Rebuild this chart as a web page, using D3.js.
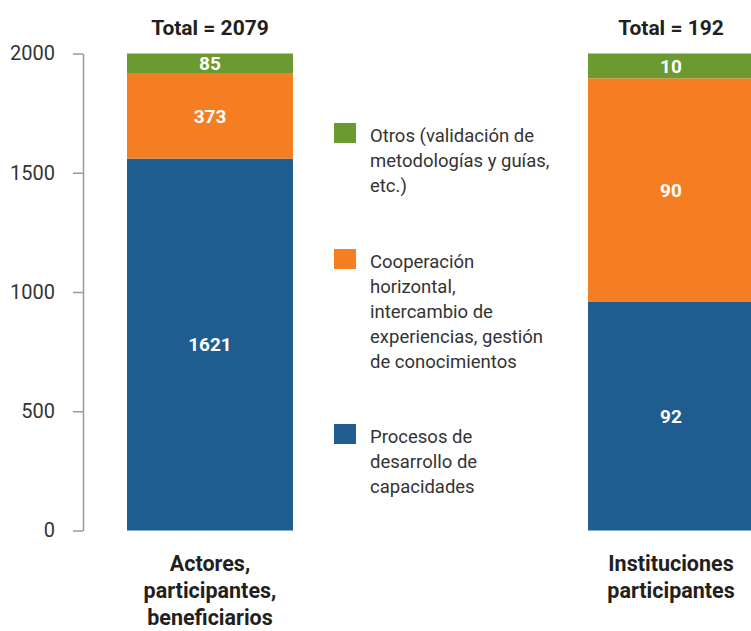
<!DOCTYPE html>
<html>
<head>
<meta charset="utf-8">
<script src="https://cdn.jsdelivr.net/npm/d3@7"></script>
<style>
  body { margin: 0; background: #fff; }
  svg { display: block; font-family: Roboto, "Noto Sans", sans-serif; }
</style>
</head>
<body>
<div id="chart"></div>
<script>
// --- data ---
const categories = ["Actores", "Instituciones"];
const categoryLabels = [
  ["Actores,", "participantes,", "beneficiarios"],
  ["Instituciones", "participantes"]
];
const seriesKeys = ["procesos", "cooperacion", "otros"];
const procesos = [1621, 92];
const cooperacion = [373, 90];
const otros = [85, 10];
const totals = [2079, 192];
const yTicks = [0, 500, 1000, 1500, 2000];
const legendLabels = {
  otros: ["Otros (validación de", "metodologías y guías,", "etc.)"],
  cooperacion: ["Cooperación", "horizontal,", "intercambio de", "experiencias, gestión", "de conocimientos"],
  procesos: ["Procesos de", "desarrollo de", "capacidades"]
};

const W = 751, H = 631;
const plotTop = 53.5, plotBottom = 530.5;

const color = d3.scaleOrdinal()
  .domain(seriesKeys)
  .range(["#1f5c8f", "#f47e21", "#6b9a30"]);

const svg = d3.select("#chart").append("svg")
  .attr("width", W)
  .attr("height", H);

const rows = categories.map((c, i) => ({
  cat: c, procesos: procesos[i], cooperacion: cooperacion[i], otros: otros[i]
}));

// each bar is shown as its share of the total, filling the full height
const stacked = d3.stack().keys(seriesKeys).offset(d3.stackOffsetExpand)(rows);

const x = d3.scaleBand().domain(categories).range([127, 754]).paddingInner(0.64);
const yAxisScale = d3.scaleLinear().domain([0, 2000]).range([plotBottom, plotTop]);
const yShare = d3.scaleLinear().domain([0, 1]).range([plotBottom, plotTop]);

// y axis
const yAxis = svg.append("g")
  .attr("transform", "translate(83,0)")
  .call(d3.axisLeft(yAxisScale).tickValues(yTicks).tickFormat(d3.format("d"))
    .tickSize(10).tickSizeOuter(0).tickPadding(18));
yAxis.select(".domain").attr("stroke", "#9a9a9a").attr("stroke-width", 1.5);
yAxis.selectAll(".tick line").attr("stroke", "#9a9a9a").attr("stroke-width", 1.5);
yAxis.selectAll(".tick text")
  .attr("fill", "#333")
  .style("font-size", "20px")
  .style("font-family", "Roboto, sans-serif");

// bars
const layers = svg.selectAll(".layer")
  .data(stacked)
  .join("g")
  .attr("class", "layer")
  .attr("fill", d => color(d.key));

layers.selectAll("rect")
  .data(d => d)
  .join("rect")
  .attr("x", d => x(d.data.cat))
  .attr("y", d => yShare(d[1]))
  .attr("width", x.bandwidth())
  .attr("height", d => yShare(d[0]) - yShare(d[1]));

// value labels
stacked.forEach(layer => {
  svg.selectAll(null)
    .data(layer)
    .join("text")
    .attr("x", d => x(d.data.cat) + x.bandwidth() / 2)
    .attr("y", d => (yShare(d[0]) + yShare(d[1])) / 2)
    .attr("dy", "0.36em")
    .attr("text-anchor", "middle")
    .attr("fill", "#fff")
    .attr("font-weight", "bold")
    .attr("font-size", "19px")
    .text(d => d.data[layer.key]);
});

// totals
svg.selectAll(".total")
  .data(categories)
  .join("text")
  .attr("class", "total")
  .attr("x", d => x(d) + x.bandwidth() / 2)
  .attr("y", 35)
  .attr("text-anchor", "middle")
  .attr("font-weight", "bold")
  .attr("font-size", "21px")
  .attr("fill", "#231f20")
  .text((d, i) => `Total = ${totals[i]}`);

// category labels
categories.forEach((c, i) => {
  const t = svg.append("text")
    .attr("text-anchor", "middle")
    .attr("font-weight", "bold")
    .attr("font-size", "21.5px")
    .attr("fill", "#231f20");
  categoryLabels[i].forEach((line, j) => {
    t.append("tspan")
      .attr("x", x(c) + x.bandwidth() / 2)
      .attr("y", 571 + j * 27)
      .text(line);
  });
});

// legend
const legendItems = [
  { key: "otros", y: 142 },
  { key: "cooperacion", y: 268 },
  { key: "procesos", y: 443 }
];
const legend = svg.append("g");
legendItems.forEach(item => {
  legend.append("rect")
    .attr("x", 334)
    .attr("y", item.y - 19)
    .attr("width", 22)
    .attr("height", 20)
    .attr("fill", color(item.key));
  const t = legend.append("text")
    .attr("font-size", "18.5px")
    .attr("fill", "#333");
  legendLabels[item.key].forEach((line, j) => {
    t.append("tspan")
      .attr("x", 370)
      .attr("y", item.y + j * 25)
      .text(line);
  });
});
</script>
</body>
</html>
